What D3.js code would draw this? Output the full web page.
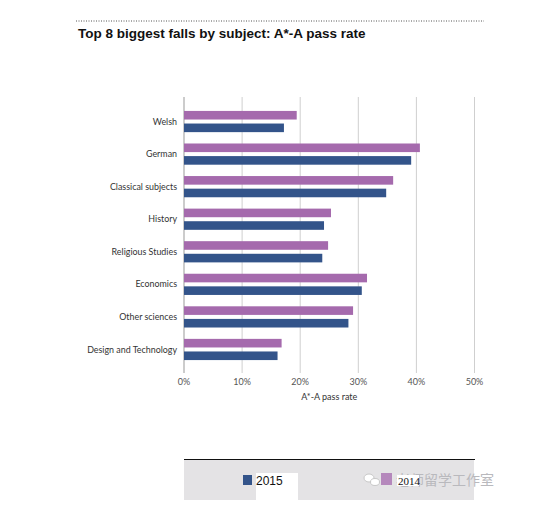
<!DOCTYPE html>
<html><head><meta charset="utf-8">
<script src="https://cdn.jsdelivr.net/npm/d3@7"></script>
<style>body{margin:0;background:#fff}svg{display:block}</style>
</head><body>
<script>
const categories = ["Welsh","German","Classical subjects","History","Religious Studies","Economics","Other sciences","Design and Technology"];
const series2014 = [19.4,40.6,36.0,25.3,24.8,31.5,29.1,16.8];
const series2015 = [17.2,39.1,34.8,24.1,23.8,30.6,28.3,16.1];
const tickValues = [0,10,20,30,40,50];
const seriesNames = ["2015","2014"];
const colors = {"2014":"#a56aad","2015":"#33548a"};

const W=550,H=509;
const svg=d3.select("body").append("svg").attr("width",W).attr("height",H);

// top dotted line and title
svg.append("line").attr("x1",76).attr("x2",484).attr("y1",21).attr("y2",21)
  .attr("stroke","#555").attr("stroke-width",1).attr("stroke-dasharray","1,1.5");
svg.append("text").attr("x",78).attr("y",38).text("Top 8 biggest falls by subject: A*-A pass rate")
  .attr("font-family","Liberation Sans, Arial, sans-serif").attr("font-weight","bold").attr("font-size",13.5).attr("fill","#111");

const x=d3.scaleLinear().domain([0,50]).range([184,474.5]);
const y=d3.scaleBand().domain(categories).range([105.25,365.75]);
const barH=8.6, gap=4;

// gridlines
svg.append("g").selectAll("line").data(tickValues).join("line")
  .attr("x1",d=>x(d)).attr("x2",d=>x(d)).attr("y1",97).attr("y2",373)
  .attr("stroke",d=>d===0?"#999":"#cfcfcf").attr("stroke-width",1);

// tick labels
svg.append("g").selectAll("text").data(tickValues).join("text")
  .attr("x",d=>x(d)).attr("y",385).attr("text-anchor","middle").text(d=>d+"%")
  .attr("font-family","Lato, sans-serif").attr("font-size",9).attr("fill","#555");
svg.append("text").attr("x",(x(0)+x(50))/2).attr("y",400).attr("text-anchor","middle").text("A*-A pass rate")
  .attr("font-family","Lato, sans-serif").attr("font-size",9).attr("fill","#333");

// category labels
svg.append("g").selectAll("text").data(categories).join("text")
  .attr("x",177).attr("y",d=>y(d)+y.bandwidth()/2).attr("dy","0.35em").attr("text-anchor","end")
  .text(d=>d).attr("font-family","Lato, sans-serif").attr("font-size",8.9).attr("fill","#333");

// bars
const g=svg.append("g");
g.selectAll("rect.b14").data(categories).join("rect").attr("class","b14")
  .attr("x",x(0)).attr("y",d=>y(d)+y.bandwidth()/2-gap/2-barH)
  .attr("width",(d,i)=>x(series2014[i])-x(0)).attr("height",barH).attr("fill",colors["2014"]);
g.selectAll("rect.b15").data(categories).join("rect").attr("class","b15")
  .attr("x",x(0)).attr("y",d=>y(d)+y.bandwidth()/2+gap/2)
  .attr("width",(d,i)=>x(series2015[i])-x(0)).attr("height",barH).attr("fill",colors["2015"]);

// legend area
svg.append("rect").attr("x",184).attr("y",460).attr("width",290).attr("height",40).attr("fill","#e4e3e5");
svg.append("line").attr("x1",184).attr("x2",475).attr("y1",459.5).attr("y2",459.5).attr("stroke","#111").attr("stroke-width",1.2);
svg.append("rect").attr("x",256).attr("y",473).attr("width",42).attr("height",36).attr("fill","#fff");
svg.append("rect").attr("x",243).attr("y",475).attr("width",9).attr("height",10).attr("fill",colors["2015"]);
svg.append("text").attr("x",256).attr("y",484.5).text(seriesNames[0])
  .attr("font-family","Liberation Sans, Arial, sans-serif").attr("font-size",12).attr("fill","#111");

// watermark
svg.append("ellipse").attr("cx",369).attr("cy",478).attr("rx",5).attr("ry",4).attr("fill","#fff").attr("stroke","#c8c8c8");
svg.append("ellipse").attr("cx",375).attr("cy",482).attr("rx",4.5).attr("ry",3.5).attr("fill","#fff").attr("stroke","#c8c8c8");
svg.append("rect").attr("x",381).attr("y",473).attr("width",11).attr("height",12).attr("fill",colors["2014"]).attr("opacity",0.75);
svg.append("text").attr("x",396).attr("y",485).text("老师留学工作室")
  .attr("font-family","Noto Sans CJK SC, sans-serif").attr("font-size",14).attr("fill","#b9b9bd");
svg.append("rect").attr("x",397).attr("y",475).attr("width",22).attr("height",11).attr("fill","#fff");
svg.append("text").attr("x",398).attr("y",485).text(seriesNames[1])
  .attr("font-family","Liberation Serif, serif").attr("font-size",11).attr("fill","#111");
</script>
</body></html>
